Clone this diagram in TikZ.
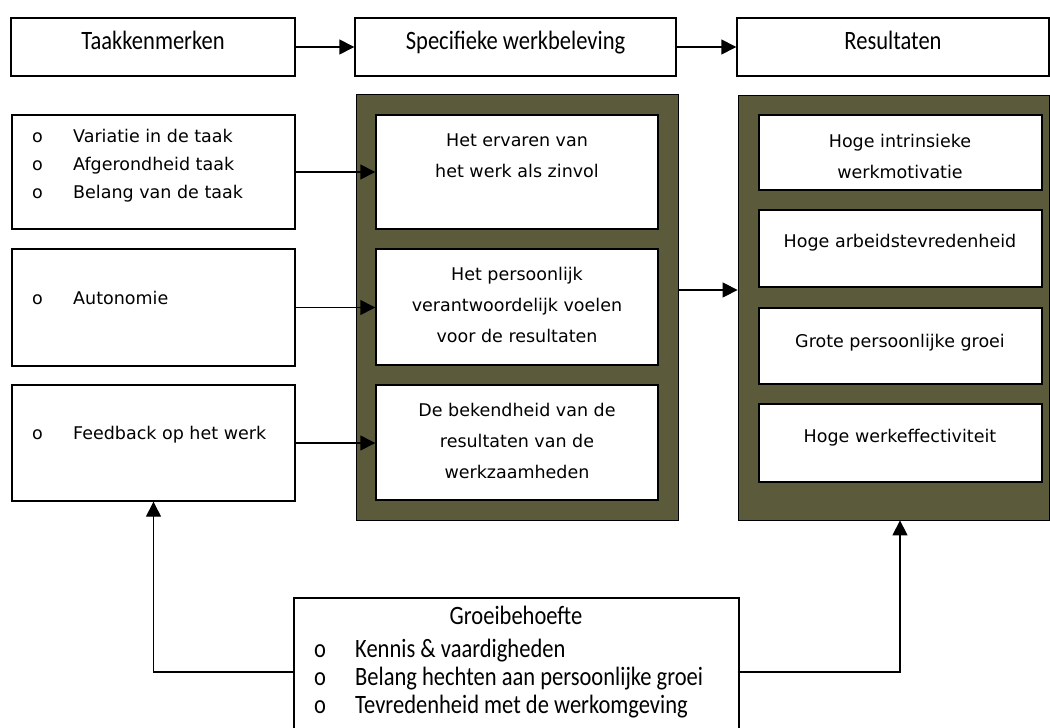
\documentclass[tikz,border=0pt]{standalone}
\usepackage{fontspec}
\setmainfont{DejaVu Sans}
\newfontfamily\condfont[FakeStretch=0.85]{Carlito}
\usetikzlibrary{arrows.meta,fit}
\definecolor{panelcol}{RGB}{91,91,59}
\begin{document}
\begin{tikzpicture}[x=1pt,y=-1pt,
  box/.style={draw=black, line width=1.4pt, fill=white, inner sep=0pt},
  panel/.style={draw=black, line width=0.8pt, fill=panelcol, inner sep=0pt},
  arr/.style={line width=1.4pt, -{Triangle[length=15pt,width=15pt]}},
  body/.style={font=\fontsize{17.5}{31}\selectfont, align=center, inner sep=0pt},
  item/.style={font=\fontsize{17.5}{20}\selectfont, inner sep=0pt, anchor=mid west},
  cond/.style={font=\condfont\fontsize{26.5}{28}\selectfont, inner sep=0pt, anchor=mid},
  conditem/.style={font=\condfont\fontsize{26.5}{28}\selectfont, inner sep=0pt, anchor=mid west}]
\clip (0,0) rectangle (1050,728);
\fill[white] (0,0) rectangle (1050,728);

% top row
\node[box, fit={(11,18) (295,76)}] (tk) {};
\node[cond] (tkt) at (tk.center) {Taakkenmerken};
\node[box, fit={(355,18) (676,76)}] (sw) {};
\node[cond] (swt) at (sw.center) {Specifieke werkbeleving};
\node[box, fit={(737,18) (1049,76)}] (rs) {};
\node[cond] (rst) at (rs.center) {Resultaten};

% middle panel
\node[panel, fit={(356,94) (678,520)}] (p1) {};
\node[box, fit={(376,115) (658,229)}] (a1) {};
\node[body] (a1t) at (517,156) {Het ervaren van\\het werk als zinvol};
\node[box, fit={(376,249) (658,365)}] (a2) {};
\node[body] (a2t) at (517,305) {Het persoonlijk\\verantwoordelijk voelen\\voor de resultaten};
\node[box, fit={(376,385) (658,500)}] (a3) {};
\node[body] (a3t) at (517,441) {De bekendheid van de\\resultaten van de\\werkzaamheden};

% right panel
\node[panel, fit={(738,95) (1049,520)}] (p2) {};
\node[box, fit={(759,115) (1042,190)}] (b1) {};
\node[body] (b1t) at (900,156) {Hoge intrinsieke\\werkmotivatie};
\node[box, fit={(759,210) (1042,287)}] (b2) {};
\node[body] (b2t) at (900,243) {Hoge arbeidstevredenheid};
\node[box, fit={(759,308) (1042,384)}] (b3) {};
\node[body] (b3t) at (900,343) {Grote persoonlijke groei};
\node[box, fit={(759,404) (1042,482)}] (b4) {};
\node[body] (b4t) at (900,438) {Hoge werkeffectiviteit};

% left boxes
\node[box, fit={(12,115) (295,229)}] (l1) {};
\node[item] (l1o1) at (32,140) {o};
\node[item] (l1i1) at (73,140) {Variatie in de taak};
\node[item] (l1o2) at (32,168) {o};
\node[item] (l1i2) at (73,168) {Afgerondheid taak};
\node[item] (l1o3) at (32,196) {o};
\node[item] (l1i3) at (73,196) {Belang van de taak};
\node[box, fit={(12,249) (295,366)}] (l2) {};
\node[item] (l2o) at (32,302) {o};
\node[item] (l2i) at (73,302) {Autonomie};
\node[box, fit={(12,385) (295,501)}] (l3) {};
\node[item] (l3o) at (32,437) {o};
\node[item] (l3i) at (73,437) {Feedback op het werk};

% bottom box
\node[box, fit={(294,598) (739,760)}] (g) {};
\node[cond] (gt) at (516,622) {Groeibehoefte};
\node[conditem] (go1) at (314,655) {o};
\node[conditem] (gi1) at (355,655) {Kennis \& vaardigheden};
\node[conditem] (go2) at (314,683) {o};
\node[conditem] (gi2) at (355,683) {Belang hechten aan persoonlijke groei};
\node[conditem] (go3) at (314,711) {o};
\node[conditem] (gi3) at (355,711) {Tevredenheid met de werkomgeving};

% connectors
\draw[arr] (tk.east) -- (sw.west);
\draw[arr] (sw.east) -- (rs.west);
\draw[arr] (l1.east) -- (l1.east -| a1.west);
\draw[arr] (l2.east) -- (l2.east -| a2.west);
\draw[arr] (l3.east) -- (l3.east -| a3.west);
\coordinate (my) at (0,290);
\draw[arr] (p1.east |- my) -- (p2.west |- my);
\coordinate (gy) at (0,672);
\coordinate (rx) at (900,0);
\draw[arr] (g.west |- gy) -| (l3.south);
\draw[arr] (g.east |- gy) -| (rx |- p2.south);
\end{tikzpicture}
\end{document}
